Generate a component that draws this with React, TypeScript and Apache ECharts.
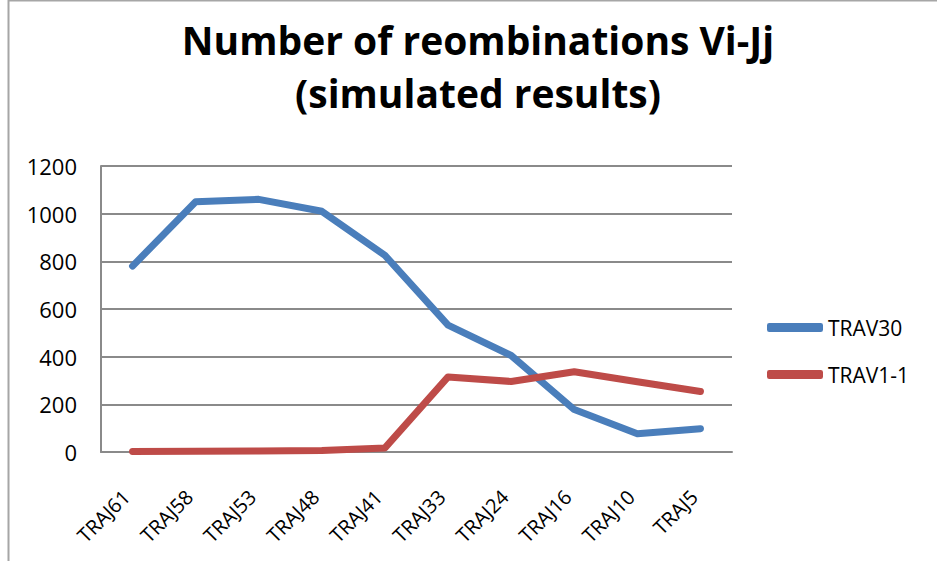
import React, { useEffect, useRef } from "react";
import * as echarts from "echarts";

const categories = ["TRAJ61", "TRAJ58", "TRAJ53", "TRAJ48", "TRAJ41", "TRAJ33", "TRAJ24", "TRAJ16", "TRAJ10", "TRAJ5"];
const trav30 = [780, 1050, 1060, 1010, 825, 532, 405, 178, 77, 98];
const trav11 = [2, 3, 4, 6, 17, 315, 296, 337, 295, 254];
const seriesNames = ["TRAV30", "TRAV1-1"];
const colors = ["#4A7EBB", "#BE4B48"];
const titleLines = ["Number of reombinations Vi-Jj", "(simulated results)"];

export default function App() {
  const ref = useRef<HTMLDivElement>(null);
  useEffect(() => {
    const chart = echarts.init(ref.current!, null, { renderer: "svg" });
    const font = "Open Sans";
    chart.setOption({
      animation: false,
      backgroundColor: "#ffffff",
      title: {
        text: titleLines.join("\n"),
        left: 478,
        top: 13,
        padding: 0,
        textAlign: "center",
        textStyle: { fontFamily: font, fontWeight: "bold", fontSize: 39, lineHeight: 53, color: "#000" },
      },
      graphic: [
        {
          type: "rect",
          shape: { x: 8.5, y: 0.5, width: 1000, height: 700 },
          style: { fill: "none", stroke: "#a6a6a6", lineWidth: 2 },
          silent: true,
        },
      ],
      legend: {
        orient: "vertical",
        left: 767,
        top: 317,
        padding: 0,
        itemWidth: 56,
        itemHeight: 9,
        itemGap: 26,
        icon: "roundRect",
        textStyle: { fontFamily: font, fontSize: 21, lineHeight: 20, color: "#000" },
        data: seriesNames,
      },
      grid: { left: 101, right: 205, top: 166, bottom: 109, containLabel: false },
      xAxis: {
        type: "category",
        data: categories,
        boundaryGap: true,
        axisLine: { lineStyle: { color: "#8a8a8a", width: 2 } },
        axisTick: { show: false },
        axisLabel: { rotate: 45, fontFamily: font, fontSize: 20, color: "#000", margin: 35, interval: 0, padding: [0, 9, 0, 0] },
      },
      yAxis: {
        type: "value",
        min: 0,
        max: 1200,
        interval: 200,
        axisLine: { show: true, lineStyle: { color: "#8a8a8a", width: 2 } },
        axisTick: { show: false },
        splitLine: { lineStyle: { color: "#8a8a8a", width: 2 } },
        axisLabel: { fontFamily: font, fontSize: 22, color: "#000", margin: 24, formatter: (v: number) => String(v) },
      },
      series: [
        {
          name: seriesNames[0],
          type: "line",
          data: trav30,
          symbol: "none",
          color: colors[0],
          lineStyle: { width: 7, color: colors[0], cap: "round", join: "round" },
        },
        {
          name: seriesNames[1],
          type: "line",
          data: trav11,
          symbol: "none",
          color: colors[1],
          lineStyle: { width: 7, color: colors[1], cap: "round", join: "round" },
        },
      ],
    });
    return () => chart.dispose();
  }, []);
  return <div ref={ref} style={{ position: "fixed", left: 0, top: 0, width: 937, height: 561 }} />;
}
